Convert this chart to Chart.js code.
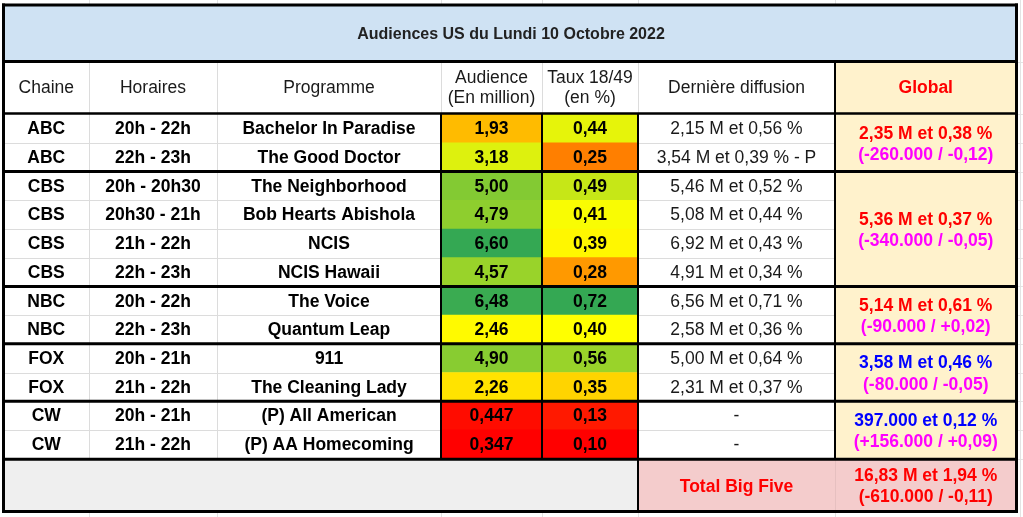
<!DOCTYPE html>
<html><head><meta charset="utf-8">
<script src="https://cdn.jsdelivr.net/npm/chart.js@4.4.0/dist/chart.umd.min.js"></script>
<style>html,body{margin:0;padding:0;background:#fff;}canvas{display:block;}</style>
</head><body>
<canvas id="c" width="1023" height="517"></canvas>
<script>
// ---------------- DATA ----------------
const title = 'Audiences US du Lundi 10 Octobre 2022';
const headers = [['Chaine'],['Horaires'],['Programme'],['Audience','(En million)'],['Taux 18/49','(en %)'],['Dernière diffusion'],['Global']];
const chaines = ['ABC','ABC','CBS','CBS','CBS','CBS','NBC','NBC','FOX','FOX','CW','CW'];
const horaires = ['20h - 22h','22h - 23h','20h - 20h30','20h30 - 21h','21h - 22h','22h - 23h','20h - 22h','22h - 23h','20h - 21h','21h - 22h','20h - 21h','21h - 22h'];
const programmes = ['Bachelor In Paradise','The Good Doctor','The Neighborhood','Bob Hearts Abishola','NCIS','NCIS Hawaii','The Voice','Quantum Leap','911','The Cleaning Lady','(P) All American','(P) AA Homecoming'];
const audiences = [1.93,3.18,5.00,4.79,6.60,4.57,6.48,2.46,4.90,2.26,0.447,0.347];
const taux = [0.44,0.25,0.49,0.41,0.39,0.28,0.72,0.40,0.56,0.35,0.13,0.10];
const derniereDiffusion = ['2,15 M et 0,56 %','3,54 M et 0,39 % - P','5,46 M et 0,52 %','5,08 M et 0,44 %','6,92 M et 0,43 %','4,91 M et 0,34 %','6,56 M et 0,71 %','2,58 M et 0,36 %','5,00 M et 0,64 %','2,31 M et 0,37 %','-','-'];
const reseaux = ['ABC','CBS','NBC','FOX','CW'];
const globalAudience = ['2,35 M et 0,38 %','5,36 M et 0,37 %','5,14 M et 0,61 %','3,58 M et 0,46 %','397.000 et 0,12 %'];
const globalEvolution = ['(-260.000 / -0,12)','(-340.000 / -0,05)','(-90.000 / +0,02)','(-80.000 / -0,05)','(+156.000 / +0,09)'];
const totalLabel = 'Total Big Five';
const totalAudience = '16,83 M et 1,94 %';
const totalEvolution = '(-610.000 / -0,11)';

// ---------------- LAYOUT & STYLE ----------------
const COL = [3.5, 89, 217, 441, 542, 638, 835, 1016.5];
const TITLE_TOP = 5, TITLE_BOT = 61.5, HEAD_BOT = 113.5;
const ROW_TOP = 114.2, ROW_H = 28.7;
const TOTAL_TOP = 459.3, TOTAL_BOT = 511.5;
const FONT = '"Liberation Sans", Arial, sans-serif';
const globalColors = {ABC:'#ff0000', CBS:'#ff0000', NBC:'#ff0000', FOX:'#0000ff', CW:'#0000ff'};
const MAGENTA = '#ff00ff';
const RED = [255,0,0], YELLOW = [255,255,0], GREEN = [52,168,83];
const audScale = {min: Math.min(...audiences), mid: 2.5, max: Math.max(...audiences)};
const tauxScale = {min: Math.min(...taux), mid: 0.40, max: Math.max(...taux)};

function mix(a,b,t){return 'rgb('+a.map((c,k)=>Math.round(c+(b[k]-c)*t)).join(',')+')';}
function heat(v,s){
  if (v <= s.mid) return mix(RED, YELLOW, Math.max(0,(v - s.min)/(s.mid - s.min)));
  return mix(YELLOW, GREEN, Math.min(1,(v - s.mid)/(s.max - s.mid)));
}
const fmtAud = v => (v < 1 ? v.toFixed(3) : v.toFixed(2)).replace('.', ',');
const fmtTaux = v => v.toFixed(2).replace('.', ',');
const rowEdge = i => ROW_TOP + i*ROW_H;
const rowCenter = i => ROW_TOP + (i+0.5)*ROW_H;

// groups of consecutive rows per network
const groups = reseaux.map(r => {
  const first = chaines.indexOf(r), last = chaines.lastIndexOf(r);
  return {net:r, first, last};
});

const tablePlugin = {
  id: 'tableGrid',
  beforeDatasetsDraw(chart){
    const ctx = chart.ctx, X = v => chart.scales.x.getPixelForValue(v), Y = v => chart.scales.y.getPixelForValue(v);
    ctx.save();
    ctx.fillStyle = '#ffffff';
    ctx.fillRect(0,0,chart.width,chart.height);
    // faint spreadsheet gridlines outside the table
    ctx.strokeStyle = '#e3e3e3'; ctx.lineWidth = 1;
    ctx.beginPath();
    COL.slice(1,7).forEach(c => { ctx.moveTo(Math.round(X(c))+0.5, 0); ctx.lineTo(Math.round(X(c))+0.5, Y(TITLE_TOP)); ctx.moveTo(Math.round(X(c))+0.5, Y(TOTAL_BOT)); ctx.lineTo(Math.round(X(c))+0.5, chart.height); });
    ctx.moveTo(X(1020.5), 0); ctx.lineTo(X(1020.5), chart.height);
    [TITLE_BOT, HEAD_BOT].concat(Array.from({length:13},(_,i)=>rowEdge(i))).forEach(y=>{ctx.moveTo(X(1018),Math.round(Y(y))+0.5); ctx.lineTo(chart.width, Math.round(Y(y))+0.5);});
    ctx.stroke();
    // backgrounds
    ctx.fillStyle = '#cfe2f3';
    ctx.fillRect(X(COL[0]), Y(TITLE_TOP), X(COL[7])-X(COL[0]), Y(TITLE_BOT)-Y(TITLE_TOP));
    ctx.fillStyle = '#fff2cc';
    ctx.fillRect(X(COL[6]), Y(TITLE_BOT), X(COL[7])-X(COL[6]), Y(rowEdge(12))-Y(TITLE_BOT));
    ctx.fillStyle = '#efefef';
    ctx.fillRect(X(COL[0]), Y(TOTAL_TOP), X(COL[5])-X(COL[0]), Y(TOTAL_BOT)-Y(TOTAL_TOP));
    ctx.fillStyle = '#f4cccc';
    ctx.fillRect(X(COL[5]), Y(TOTAL_TOP), X(COL[7])-X(COL[5]), Y(TOTAL_BOT)-Y(TOTAL_TOP));
    // light inner gridlines
    ctx.strokeStyle = '#dcdcdc'; ctx.lineWidth = 1;
    ctx.beginPath();
    for (let i=1;i<12;i++){
      const y = Math.round(Y(rowEdge(i)))+0.5;
      ctx.moveTo(X(COL[0]), y); ctx.lineTo(X(COL[3]), y);
      ctx.moveTo(X(COL[5]), y); ctx.lineTo(X(COL[6]), y);
    }
    [COL[1], COL[2]].forEach(c=>{ctx.moveTo(Math.round(X(c))+0.5, Y(TITLE_BOT)); ctx.lineTo(Math.round(X(c))+0.5, Y(rowEdge(12)));});
    [COL[3], COL[4], COL[5]].forEach(c=>{ctx.moveTo(Math.round(X(c))+0.5, Y(TITLE_BOT)); ctx.lineTo(Math.round(X(c))+0.5, Y(HEAD_BOT));});
    ctx.stroke();
    ctx.strokeStyle = '#e6c0c0';
    ctx.beginPath(); ctx.moveTo(Math.round(X(COL[6]))+0.5, Y(TOTAL_TOP)); ctx.lineTo(Math.round(X(COL[6]))+0.5, Y(TOTAL_BOT)); ctx.stroke();
    ctx.restore();
  },
  afterDatasetsDraw(chart){
    const ctx = chart.ctx, X = v => chart.scales.x.getPixelForValue(v), Y = v => chart.scales.y.getPixelForValue(v);
    ctx.save();
    ctx.strokeStyle = '#000';
    const hLine = (y,w,x0=COL[0],x1=COL[7]) => {ctx.lineWidth=w; ctx.beginPath(); ctx.moveTo(X(x0)-1.5, Y(y)); ctx.lineTo(X(x1)+1.5, Y(y)); ctx.stroke();};
    const vLine = (x,w,y0,y1) => {ctx.lineWidth=w; ctx.beginPath(); ctx.moveTo(X(x), Y(y0)); ctx.lineTo(X(x), Y(y1)); ctx.stroke();};
    // vertical dark lines
    vLine(COL[3], 2, HEAD_BOT, rowEdge(12));
    vLine(COL[4], 2, HEAD_BOT, rowEdge(12));
    vLine(COL[5], 2, HEAD_BOT, TOTAL_BOT);
    vLine(COL[6], 2, TITLE_BOT, TOTAL_TOP);
    vLine(COL[0], 3, TITLE_TOP-1.5, TOTAL_BOT+1.5);
    vLine(COL[7], 3, TITLE_TOP-1.5, TOTAL_BOT+1.5);
    // horizontal dark lines
    hLine(TITLE_TOP, 3);
    hLine(TITLE_BOT, 3);
    hLine(HEAD_BOT, 2.5);
    groups.slice(1).forEach(g => hLine(rowEdge(g.first), 3));
    hLine(TOTAL_TOP, 3);
    hLine(TOTAL_BOT, 3);

    ctx.textAlign = 'center'; ctx.textBaseline = 'middle';
    const cx = k => (X(COL[k]) + X(COL[k+1]))/2;
    // title
    ctx.fillStyle = '#222'; ctx.font = 'bold 16px ' + FONT;
    ctx.fillText(title, (X(COL[0])+X(COL[7]))/2 + 1, Y((TITLE_TOP+TITLE_BOT)/2) + 1);
    // headers
    const hc = (TITLE_BOT + HEAD_BOT)/2;
    headers.forEach((h,k) => {
      ctx.font = (k===6 ? 'bold ' : '') + '17.5px ' + FONT;
      ctx.fillStyle = k===6 ? '#ff0000' : '#1a1a1a';
      if (h.length === 1) ctx.fillText(h[0], cx(k), Y(hc)+1);
      else { ctx.fillText(h[0], cx(k), Y(hc)-9.5); ctx.fillText(h[1], cx(k), Y(hc)+10.5); }
    });
    // rows
    for (let i=0;i<12;i++){
      const y = Y(rowCenter(i)) + 1;
      ctx.fillStyle = '#000';
      ctx.font = 'bold 17.5px ' + FONT;
      ctx.fillText(chaines[i], cx(0), y);
      ctx.fillText(horaires[i], cx(1), y);
      ctx.fillText(programmes[i], cx(2), y);
      ctx.fillText(fmtAud(audiences[i]), cx(3), y);
      ctx.fillText(fmtTaux(taux[i]), cx(4), y);
      ctx.fillStyle = '#1a1a1a';
      ctx.font = '17.5px ' + FONT;
      ctx.fillText(derniereDiffusion[i], cx(5), y);
    }
    // global per network
    ctx.font = 'bold 17.5px ' + FONT;
    groups.forEach((g,k) => {
      const c = Y((rowEdge(g.first) + rowEdge(g.last+1))/2) + 2;
      ctx.fillStyle = globalColors[g.net];
      ctx.fillText(globalAudience[k], cx(6), c - 11);
      ctx.fillStyle = MAGENTA;
      ctx.fillText(globalEvolution[k], cx(6), c + 10.5);
    });
    // total
    const tc = Y((TOTAL_TOP + TOTAL_BOT)/2) + 1.5;
    ctx.fillStyle = '#ff0000';
    ctx.fillText(totalLabel, cx(5), tc);
    ctx.fillText(totalAudience, cx(6), tc - 10.5);
    ctx.fillText(totalEvolution, cx(6), tc + 10.5);
    ctx.restore();
  }
};

new Chart(document.getElementById('c'), {
  type: 'bar',
  data: {
    datasets: [
      { label: 'Audience (En million)',
        data: audiences.map((v,i) => ({y: rowCenter(i), x: [COL[3], COL[4]], v})),
        backgroundColor: audiences.map(v => heat(v, audScale)) },
      { label: 'Taux 18/49 (en %)',
        data: taux.map((v,i) => ({y: rowCenter(i), x: [COL[4], COL[5]], v})),
        backgroundColor: taux.map(v => heat(v, tauxScale)) }
    ]
  },
  options: {
    indexAxis: 'y',
    responsive: false,
    animation: false,
    events: [],
    devicePixelRatio: 1,
    layout: { padding: 0 },
    datasets: { bar: { barThickness: ROW_H, grouped: false, borderWidth: 0, borderSkipped: false } },
    scales: {
      x: { type: 'linear', min: 0, max: 1023, display: false, offset: false, bounds: 'ticks' },
      y: { type: 'linear', min: 0, max: 517, reverse: true, display: false, offset: false }
    },
    plugins: { legend: { display: false }, tooltip: { enabled: false } }
  },
  plugins: [tablePlugin]
});
</script>
</body></html>
